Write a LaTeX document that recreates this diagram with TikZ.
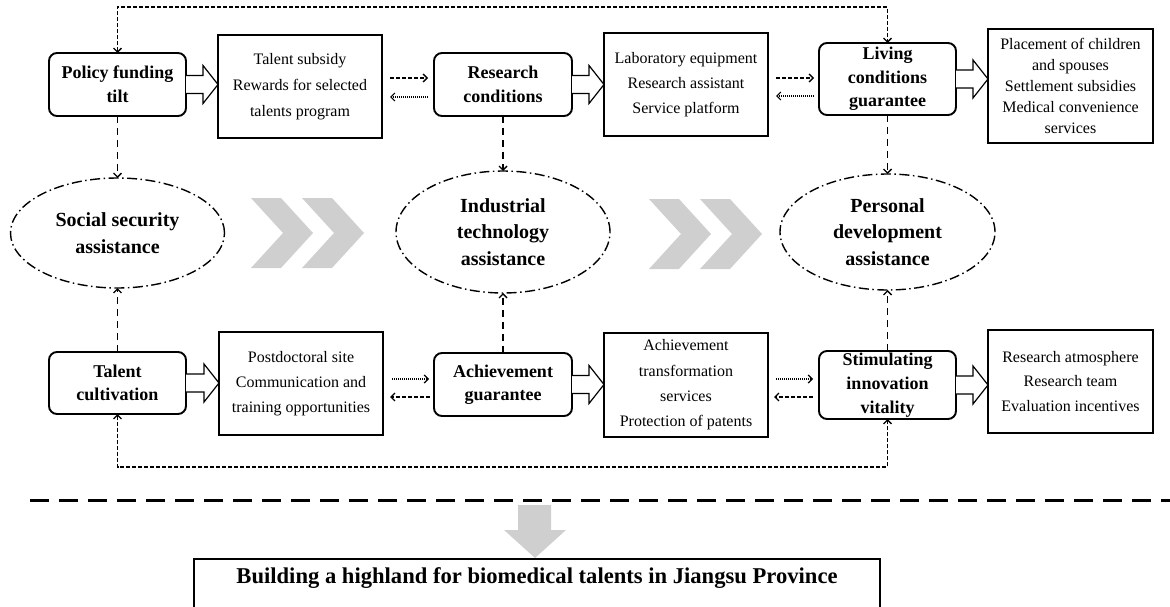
\documentclass[tikz,border=0pt]{standalone}
\usepackage{fontspec}
\setmainfont{Liberation Serif}
\usetikzlibrary{arrows.meta,shapes.geometric,calc}
\definecolor{chevgray}{HTML}{CFCFCF}
\newcommand{\hollowarr}[2]{%
  \coordinate (#1tip) at (#1.east -| #2.west);
  \draw[hollow] ($(#1.east)+(0,-9)$) -- ($(#1tip)+(-15,-9)$) -- ($(#1tip)+(-15,-19)$) -- (#1tip)
    -- ($(#1tip)+(-15,19)$) -- ($(#1tip)+(-15,9)$) -- ($(#1.east)+(0,9)$);}
\newcommand{\chevshape}[2]{\fill[chevgray] (#1,#2) -- ++(30,0) -- ++(32,35) -- ++(-32,35) -- ++(-30,0) -- ++(32,-35) -- cycle;}
\begin{document}
\begin{tikzpicture}[x=1pt,y=-1pt,
  every node/.style={inner sep=0pt, outer sep=0pt, align=center},
  keybox/.style={draw, line width=1.9pt, rounded corners=8pt, minimum width=137pt,
     font=\fontsize{18}{23.5}\selectfont\bfseries},
  itembox/.style={draw, line width=1.3pt, minimum width=164pt},
  assist/.style={ellipse, draw, line width=1.4pt, dash pattern=on 10pt off 3.5pt on 1.5pt off 3.5pt,
     font=\fontsize{20}{26.5}\selectfont\bfseries},
  hollow/.style={draw, line width=1.2pt, fill=white},
  dsh/.style={line width=1.3pt, dash pattern=on 4pt off 2pt},
  dtt/.style={line width=1.2pt, dash pattern=on 1pt off 1pt},
  vdsh/.style={line width=1.4pt, dash pattern=on 7pt off 5pt},
]
\useasboundingbox (0,0) rectangle (1170,607);

% top row
\node[keybox, minimum height=63pt] (pol) at (117.5,84.5) {Policy funding\\tilt};
\node[itembox, minimum height=103pt, font=\fontsize{16}{26}\selectfont] (ts) at (300,86.5)
  {Talent subsidy\\Rewards for selected\\talents program};
\node[keybox, minimum height=63pt, minimum width=138pt] (res) at (503,84.5) {Research\\conditions};
\node[itembox, minimum height=103pt, font=\fontsize{16}{25}\selectfont] (lab) at (686,84.5)
  {Laboratory equipment\\Research assistant\\Service platform};
\node[keybox, minimum height=72pt] (liv) at (887.5,79) {Living\\conditions\\guarantee};
\node[itembox, minimum height=114pt, minimum width=165pt, font=\fontsize{16}{21}\selectfont] (pla) at (1070.5,86)
  {Placement of children\\and spouses\\Settlement subsidies\\Medical convenience\\services};

% middle ellipses
\node[assist, minimum width=214pt, minimum height=110pt] (soc) at (117.5,233) {Social security\\assistance};
\node[assist, minimum width=214pt, minimum height=122pt] (ind) at (503,232) {Industrial\\technology\\assistance};
\node[assist, minimum width=215pt, minimum height=116pt] (per) at (887.5,232) {Personal\\development\\assistance};

% bottom row
\node[keybox, minimum height=62pt] (tal) at (117.5,383) {Talent\\cultivation};
\node[itembox, minimum height=103pt, font=\fontsize{16}{25}\selectfont] (pd) at (301,383.5)
  {Postdoctoral site\\Communication and\\training opportunities};
\node[keybox, minimum height=63pt, minimum width=138pt] (ach) at (503,384.5) {Achievement\\guarantee};
\node[itembox, minimum height=104pt, font=\fontsize{16}{25.3}\selectfont] (atr) at (686,385)
  {Achievement\\transformation\\services\\Protection of patents};
\node[keybox, minimum height=68pt, font=\fontsize{18}{24}\selectfont\bfseries] (sti) at (887.5,385) {Stimulating\\innovation\\vitality};
\node[itembox, minimum height=103pt, minimum width=165pt, font=\fontsize{16}{24.5}\selectfont] (ra) at (1070.5,381.5)
  {Research atmosphere\\Research team\\Evaluation incentives};

% hollow arrows
\hollowarr{pol}{ts}
\hollowarr{res}{lab}
\hollowarr{liv}{pla}
\hollowarr{tal}{pd}
\hollowarr{ach}{atr}
\hollowarr{sti}{ra}

% horizontal connectors, top row
\draw[dsh, -{Straight Barb[length=4pt,width=8pt]}, shorten <=8pt, shorten >=6pt]
  ([yshift=6.5pt]res.west -| ts.east) -- ([yshift=6.5pt]res.west);
\draw[dtt, -{Straight Barb[length=4pt,width=8pt]}, shorten <=6pt, shorten >=8pt]
  ([yshift=-12.5pt]res.west) -- ([yshift=-12.5pt]res.west -| ts.east);
\draw[dsh, -{Straight Barb[length=4pt,width=8pt]}, shorten <=8pt, shorten >=5pt]
  ([yshift=1pt]liv.west -| lab.east) -- ([yshift=1pt]liv.west);
\draw[dtt, -{Straight Barb[length=4pt,width=8pt]}, shorten <=5pt, shorten >=8pt]
  ([yshift=-17pt]liv.west) -- ([yshift=-17pt]liv.west -| lab.east);

% horizontal connectors, bottom row
\draw[dtt, -{Straight Barb[length=4pt,width=8pt]}, shorten <=9pt, shorten >=5pt]
  ([yshift=5.5pt]ach.west -| pd.east) -- ([yshift=5.5pt]ach.west);
\draw[dsh, -{Straight Barb[length=4pt,width=8pt]}, shorten <=4pt, shorten >=7pt]
  ([yshift=-12.5pt]ach.west) -- ([yshift=-12.5pt]ach.west -| pd.east);
\draw[dtt, -{Straight Barb[length=4pt,width=8pt]}, shorten <=8pt, shorten >=6pt]
  ([yshift=6pt]sti.west -| atr.east) -- ([yshift=6pt]sti.west);
\draw[dsh, -{Straight Barb[length=4pt,width=8pt]}, shorten <=6pt, shorten >=6pt]
  ([yshift=-12pt]sti.west) -- ([yshift=-12pt]sti.west -| atr.east);

% vertical connectors to the ellipses
\draw[vdsh, -{Straight Barb[length=4pt,width=8pt]}] (pol.south) -- (soc.north);
\draw[vdsh, -{Straight Barb[length=4pt,width=8pt]}] (res.south) -- (ind.north);
\draw[vdsh, -{Straight Barb[length=4pt,width=8pt]}] (liv.south) -- (per.north);
\draw[vdsh, -{Straight Barb[length=4pt,width=8pt]}] (tal.north) -- (soc.south);
\draw[vdsh, -{Straight Barb[length=4pt,width=8pt]}] (ach.north) -- (ind.south);
\draw[vdsh, -{Straight Barb[length=4pt,width=8pt]}] (sti.north) -- (per.south);

% loops
\coordinate (ytop) at (0,7);
\coordinate (ybot) at (0,467);
\draw[dsh, {Straight Barb[length=4pt,width=8pt]}-{Straight Barb[length=4pt,width=8pt]}]
  (pol.north) -- (pol.north |- ytop) -- (liv.north |- ytop) -- (liv.north);
\draw[dsh, {Straight Barb[length=4pt,width=8pt]}-{Straight Barb[length=4pt,width=8pt]}]
  (tal.south) -- (tal.south |- ybot) -- (sti.south |- ybot) -- (sti.south);

% chevrons
\chevshape{251}{198}
\chevshape{302}{198}
\chevshape{649}{199}
\chevshape{700}{199}

% separator and final goal
\coordinate (sepL) at (30,500);
\coordinate (sepR) at (1170,500);
\draw[line width=3pt, dash pattern=on 19pt off 10pt] (sepL) -- (sepR);
\fill[chevgray] (518,505) -- (551,505) -- (551,530) -- (566,530) -- (535,558) -- (504,530) -- (518,530) -- cycle;
\node[draw, line width=1.8pt, minimum width=686pt, text height=24pt, text depth=29pt, anchor=north,
  font=\fontsize{22.6}{27}\selectfont\bfseries] (goal) at (537,559)
  {Building a highland for biomedical talents in Jiangsu Province};
\end{tikzpicture}
\end{document}
